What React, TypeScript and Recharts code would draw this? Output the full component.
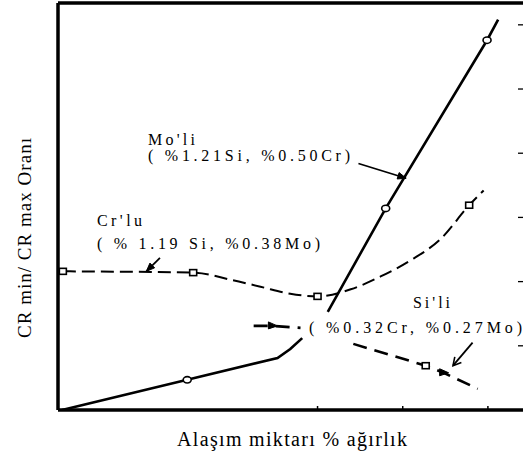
import React from 'react';
import { ComposedChart, Line, Scatter, XAxis, YAxis, ReferenceLine } from 'recharts';

const W = 523;
const H = 459;

const X_DOMAIN = [-0.047, 5.412];
const Y_DOMAIN = [0, 6.34];
const X_TICKS = [3, 4, 5];
const Y_TICKS = [1, 2, 3, 4, 5, 6];

// Mo'li: solid curve, broken where the Si'li label sits
const moliCurve = [
  { x: 0, y: 0 },
  { x: 1.47, y: 0.47 },
  { x: 2.53, y: 0.81 },
  { x: 2.68, y: 0.95 },
  { x: 2.82, y: 1.12 },
  { x: 2.97, y: null },
  { x: 3.12, y: 1.53 },
  { x: 3.8, y: 3.14 },
  { x: 4.99, y: 5.76 },
  { x: 5.12, y: 6.08 },
];
const moliPoints = [
  { x: 1.47, y: 0.47 },
  { x: 3.8, y: 3.14 },
  { x: 4.99, y: 5.76 },
];

// Cr'lu: dashed curve with square markers
const crluCurve = [
  { x: 0.01, y: 2.16 },
  { x: 1.54, y: 2.14 },
  { x: 1.98, y: 2.03 },
  { x: 2.33, y: 1.92 },
  { x: 2.68, y: 1.81 },
  { x: 3.0, y: 1.77 },
  { x: 3.39, y: 1.88 },
  { x: 3.74, y: 2.08 },
  { x: 4.09, y: 2.33 },
  { x: 4.45, y: 2.67 },
  { x: 4.78, y: 3.19 },
  { x: 4.95, y: 3.42 },
];
const crluPoints = [
  { x: 0.01, y: 2.16 },
  { x: 1.54, y: 2.14 },
  { x: 3.0, y: 1.77 },
  { x: 4.78, y: 3.19 },
];

// Si'li: dashed curve, broken behind its own label
const siliCurve = [
  { x: 2.25, y: 1.31 },
  { x: 2.47, y: 1.31 },
  { x: 2.8, y: 1.28 },
  { x: 3.1, y: null },
  { x: 3.42, y: 1.03 },
  { x: 4.27, y: 0.69 },
  { x: 4.48, y: 0.58 },
  { x: 4.88, y: 0.33 },
];
const siliTriangles = [
  { x: 2.47, y: 1.31 },
  { x: 4.48, y: 0.58 },
];
const siliSquares = [{ x: 4.27, y: 0.69 }];

// Leader arrows (from label to curve), in data units
const moliArrow = [{ x: 3.48, y: 3.84 }, { x: 4.04, y: 3.61 }];
const crluArrow = [{ x: 1.15, y: 2.37 }, { x: 0.99, y: 2.16 }];
const siliArrow = [{ x: 4.82, y: 1.05 }, { x: 4.59, y: 0.69 }];

const FONT = 'Liberation Serif';

const CircleMark = (p: any) => (
  <ellipse cx={p.cx} cy={p.cy} rx={4} ry={3.2} fill="#fff" stroke="#000" strokeWidth={1.6} />
);
const SquareMark = (p: any) => (
  <rect x={p.cx - 3.5} y={p.cy - 3} width={7} height={6} fill="#fff" stroke="#000" strokeWidth={1.6} />
);
const TriangleMark = (p: any) => (
  <polygon
    points={`${p.cx - 4},${p.cy - 4} ${p.cx + 5},${p.cy} ${p.cx - 4},${p.cy + 3}`}
    fill="#000"
    stroke="#000"
    strokeWidth={1}
  />
);

const arrowShape = (filled: boolean) => (p: any) => {
  const { x1, y1, x2, y2 } = p;
  const a = Math.atan2(y2 - y1, x2 - x1);
  const len = 9;
  const spread = filled ? 0.38 : 0.5;
  const ax = x2 - len * Math.cos(a - spread);
  const ay = y2 - len * Math.sin(a - spread);
  const bx = x2 - len * Math.cos(a + spread);
  const by = y2 - len * Math.sin(a + spread);
  return (
    <g>
      <line x1={x1} y1={y1} x2={x2} y2={y2} stroke="#000" strokeWidth={1.8} />
      {filled ? (
        <polygon points={`${x2},${y2} ${ax},${ay} ${bx},${by}`} fill="#000" stroke="#000" />
      ) : (
        <polyline points={`${ax},${ay} ${x2},${y2} ${bx},${by}`} fill="none" stroke="#000" strokeWidth={1.6} />
      )}
    </g>
  );
};

type NoteProps = { x: number; y: number; w: number; size?: number; children: string; [k: string]: any };
const Note = ({ x, y, w, size = 16, children, ...rest }: NoteProps) => (
  <text
    x={x}
    y={y}
    fontFamily={FONT}
    fontSize={size}
    fill="#000"
    textLength={w}
    lengthAdjust="spacing"
    {...rest}
  >
    {children}
  </text>
);

export default function App() {
  return (
    <div style={{ position: 'absolute', left: 0, top: 0, width: W, height: H, background: '#fff' }}>
      <ComposedChart width={W} height={H} margin={{ top: 2, right: 0, bottom: 49, left: 57 }}>
        <XAxis
          xAxisId="b"
          type="number"
          dataKey="x"
          domain={X_DOMAIN}
          ticks={X_TICKS}
          allowDataOverflow
          height={1}
          mirror
          tickSize={4}
          tickFormatter={() => ''}
          axisLine={{ stroke: '#000', strokeWidth: 3.5 }}
          tickLine={{ stroke: '#000', strokeWidth: 1.5 }}
        />
        <XAxis
          xAxisId="t"
          orientation="top"
          type="number"
          dataKey="x"
          domain={X_DOMAIN}
          allowDataOverflow
          height={1}
          tick={false}
          tickLine={false}
          axisLine={{ stroke: '#000', strokeWidth: 3.5 }}
        />
        <YAxis
          yAxisId="l"
          type="number"
          domain={Y_DOMAIN}
          allowDataOverflow
          width={1}
          tick={false}
          tickLine={false}
          axisLine={{ stroke: '#000', strokeWidth: 3.5 }}
        />
        <YAxis
          yAxisId="r"
          orientation="right"
          type="number"
          domain={Y_DOMAIN}
          ticks={Y_TICKS}
          allowDataOverflow
          width={1}
          mirror
          tickSize={5}
          tickFormatter={() => ''}
          axisLine={false}
          tickLine={{ stroke: '#000', strokeWidth: 1.3 }}
        />

        <Line
          xAxisId="b"
          yAxisId="l"
          data={crluCurve}
          dataKey="y"
          type="monotone"
          stroke="#000"
          strokeWidth={2}
          strokeDasharray="13 6"
          dot={false}
          activeDot={false}
          isAnimationActive={false}
        />
        <Line
          xAxisId="b"
          yAxisId="l"
          data={siliCurve}
          dataKey="y"
          type="linear"
          stroke="#000"
          strokeWidth={2.6}
          strokeDasharray="14 8"
          dot={false}
          activeDot={false}
          isAnimationActive={false}
        />
        <Line
          xAxisId="b"
          yAxisId="l"
          data={moliCurve}
          dataKey="y"
          type="linear"
          stroke="#000"
          strokeWidth={2.6}
          dot={false}
          activeDot={false}
          isAnimationActive={false}
        />

        <Scatter xAxisId="b" yAxisId="l" data={moliPoints} dataKey="y" shape={CircleMark} isAnimationActive={false} />
        <Scatter xAxisId="b" yAxisId="l" data={crluPoints} dataKey="y" shape={SquareMark} isAnimationActive={false} />
        <Scatter xAxisId="b" yAxisId="l" data={siliSquares} dataKey="y" shape={SquareMark} isAnimationActive={false} />
        <Scatter xAxisId="b" yAxisId="l" data={siliTriangles} dataKey="y" shape={TriangleMark} isAnimationActive={false} />

        <ReferenceLine xAxisId="b" yAxisId="l" segment={moliArrow} shape={arrowShape(true)} />
        <ReferenceLine xAxisId="b" yAxisId="l" segment={crluArrow} shape={arrowShape(true)} />
        <ReferenceLine xAxisId="b" yAxisId="l" segment={siliArrow} shape={arrowShape(false)} />
      </ComposedChart>

      <svg
        width={W}
        height={H}
        style={{ position: 'absolute', left: 0, top: 0, pointerEvents: 'none' }}
      >
        <Note x={148} y={145} w={47}>Mo'li</Note>
        <Note x={148} y={161} w={202}>( %1.21Si, %0.50Cr)</Note>
        <Note x={97} y={226} w={45}>Cr'lu</Note>
        <Note x={97} y={249} w={223}>( % 1.19 Si, %0.38Mo)</Note>
        <Note x={413} y={308} w={37}>Si'li</Note>
        <Note x={309} y={333} w={213}>( %0.32Cr, %0.27Mo)</Note>

        <Note x={177} y={446} w={230} size={20}>Alaşım miktarı % ağırlık</Note>
        <Note x={31} y={338} w={200} size={19} transform="rotate(-90 31 338)">
          CR min/ CR max Oranı
        </Note>
      </svg>
    </div>
  );
}
